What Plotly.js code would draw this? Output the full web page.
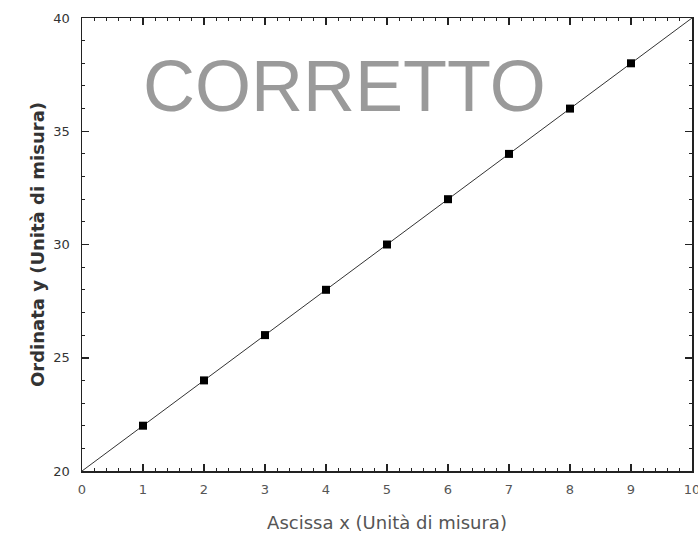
<!DOCTYPE html>
<html>
<head>
<meta charset="utf-8">
<script src="https://cdn.plot.ly/plotly-3.0.1.min.js"></script>
<style>html,body{margin:0;padding:0;background:#fff;}#chart{width:698px;height:538px;}</style>
</head>
<body>
<div id="chart"></div>
<script>
const xPoints = [1, 2, 3, 4, 5, 6, 7, 8, 9];
const yPoints = [22, 24, 26, 28, 30, 32, 34, 36, 38];
const xLine = [0, 10];
const yLine = [20, 40];
const xTickVals = [0, 1, 2, 3, 4, 5, 6, 7, 8, 9, 10];
const yTickVals = [20, 25, 30, 35, 40];

const traces = [
  {x: xLine, y: yLine, mode: 'lines', type: 'scatter',
   line: {color: '#333', width: 1}, hoverinfo: 'skip'},
  {x: xPoints, y: yPoints, mode: 'markers', type: 'scatter',
   marker: {symbol: 'square', size: 8, color: '#000'}}
];

const tickFontX = {family: 'DejaVu Sans, sans-serif', size: 13, color: '#555'};
const tickFontY = {family: 'DejaVu Sans, sans-serif', size: 13, color: '#333'};

const layout = {
  width: 698, height: 538,
  margin: {l: 82, r: 6, t: 18, b: 67},
  showlegend: false,
  paper_bgcolor: '#fff', plot_bgcolor: '#fff',
  xaxis: {
    range: [0, 10], tickvals: xTickVals, ticks: 'inside', ticklen: 7, tickwidth: 1.5,
    tickcolor: '#222', showline: true, linecolor: '#222', linewidth: 1.5, mirror: 'allticks',
    showgrid: false, zeroline: false, tickfont: tickFontX, ticklabelstandoff: 6,
    ticklabeloverflow: 'allow',
    minor: {dtick: 0.2, ticks: 'inside', ticklen: 3, tickcolor: '#222', tickwidth: 1, showgrid: false},
    title: {text: 'Ascissa x (Unità di misura)', font: {family: 'DejaVu Sans, sans-serif', size: 18, color: '#555'}, standoff: 20}
  },
  yaxis: {
    range: [20, 40], tickvals: yTickVals, ticks: 'inside', ticklen: 7, tickwidth: 1.5,
    tickcolor: '#222', showline: true, linecolor: '#222', linewidth: 1.5, mirror: 'allticks',
    showgrid: false, zeroline: false, tickfont: tickFontY, ticklabelstandoff: 8,
    ticklabeloverflow: 'allow',
    minor: {dtick: 1, ticks: 'inside', ticklen: 3, tickcolor: '#222', tickwidth: 1, showgrid: false},
    title: {text: '<b>Ordinata y (Unità di misura)</b>', font: {family: 'DejaVu Sans, sans-serif', size: 18, color: '#333'}, standoff: 4}
  },
  annotations: [{
    text: 'CORRETTO', xref: 'paper', yref: 'paper', x: 0.43, y: 0.85,
    xanchor: 'center', yanchor: 'middle', showarrow: false,
    font: {family: 'Liberation Sans, Arial, sans-serif', size: 72, color: '#9a9a9a'}
  }]
};

Plotly.newPlot('chart', traces, layout, {displayModeBar: false, staticPlot: true});
</script>
</body>
</html>
